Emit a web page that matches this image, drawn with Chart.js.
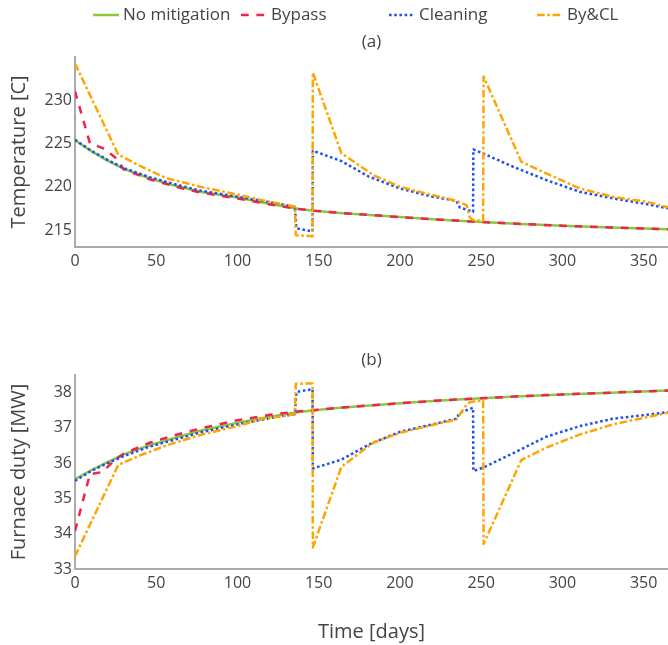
<!DOCTYPE html>
<html>
<head>
<meta charset="utf-8">
<script src="https://cdn.jsdelivr.net/npm/chart.js@4.4.1/dist/chart.umd.min.js"></script>
<style>
  html, body { margin: 0; padding: 0; background: #fff; }
  #wrap { position: relative; width: 668px; height: 645px; overflow: hidden; }
  #c1 { position: absolute; left: 0; top: 0; }
  #c2 { position: absolute; left: 0; top: 300px; }
</style>
</head>
<body>
<div id="wrap">
  <canvas id="c1" width="668" height="290"></canvas>
  <canvas id="c2" width="668" height="345"></canvas>
</div>
<script>
// ---------- data ----------
const seriesNames = ['No mitigation', 'Bypass', 'Cleaning', 'By&CL'];
const panelTitles = ['(a)', '(b)'];
const xTitle = 'Time [days]';
const yTitles = ['Temperature [C]', 'Furnace duty [MW]'];

// No mitigation
const noMitDays = [0, 10, 20, 30, 46, 60, 77, 100, 120, 138, 147, 165, 200, 225, 250, 275, 300, 330, 365];
const noMitTemp = [225.35, 224.1, 223.0, 222.05, 220.95, 220.2, 219.42, 218.75, 218.0, 217.42, 217.23, 216.95, 216.5, 216.2, 215.93, 215.7, 215.5, 215.3, 215.1];
const noMitDuty = [35.55, 35.8, 36.03, 36.25, 36.51, 36.7, 36.92, 37.15, 37.32, 37.45, 37.5, 37.58, 37.7, 37.78, 37.84, 37.9, 37.95, 38.0, 38.06];

// Bypass
const bypassDays = [0, 9.2, 17, 24.6, 30, 46, 62, 77, 100, 120, 138, 147, 165, 200, 225, 250, 275, 300, 330, 365];
const bypassTemp = [231.0, 225.0, 224.45, 223.4, 222.0, 220.85, 220.0, 219.35, 218.65, 217.95, 217.42, 217.23, 216.95, 216.5, 216.2, 215.93, 215.7, 215.5, 215.3, 215.1];
const bypassDuty = [34.08, 35.69, 35.75, 36.1, 36.27, 36.58, 36.8, 36.98, 37.22, 37.37, 37.47, 37.5, 37.58, 37.7, 37.78, 37.84, 37.9, 37.95, 38.0, 38.06];

// Cleaning
const cleanDays = [0, 10, 20, 30, 46, 60, 77, 100, 120, 135.3, 136.3, 146.2, 146.4, 164, 181, 200, 220, 234.7, 236.8, 245, 245.2, 251, 269.6, 290, 310.6, 331, 351.6, 365];
const cleanTemp = [225.4, 224.15, 223.1, 222.15, 221.1, 220.35, 219.55, 218.85, 218.2, 217.7, 215.2, 214.85, 224.15, 222.95, 221.15, 219.8, 218.85, 218.38, 217.62, 217.1, 224.3, 223.85, 222.3, 220.77, 219.42, 218.66, 218.0, 217.5];
const cleanDuty = [35.5, 35.78, 36.0, 36.2, 36.47, 36.65, 36.87, 37.1, 37.28, 37.39, 38.02, 38.1, 35.85, 36.1, 36.53, 36.89, 37.1, 37.26, 37.43, 37.57, 35.78, 35.87, 36.28, 36.75, 37.05, 37.26, 37.37, 37.45];

// By&CL
const byclDays = [0, 26.6, 40, 56, 77, 100, 115, 135.3, 135.9, 146.2, 146.4, 164, 183.5, 200, 220, 234.7, 241, 243, 245, 251.2, 251.5, 274.7, 290, 310.6, 331, 351.6, 365];
const byclTemp = [234.2, 223.7, 222.4, 221.0, 220.0, 219.1, 218.45, 217.72, 214.4, 214.3, 233.15, 223.85, 221.35, 220.0, 219.04, 218.38, 217.88, 216.47, 216.15, 216.05, 232.7, 222.88, 221.54, 219.81, 218.84, 218.27, 217.62];
const byclDuty = [33.36, 35.95, 36.22, 36.5, 36.8, 37.05, 37.25, 37.39, 38.25, 38.26, 33.61, 35.9, 36.58, 36.86, 37.08, 37.24, 37.66, 37.73, 37.75, 37.78, 33.71, 36.09, 36.44, 36.81, 37.1, 37.3, 37.43];

// ---------- styling ----------
const FONT = '"Open Sans", "Noto Sans", sans-serif';
const TEXT = '#444';
const AXIS = '#aaaaaa';
const styles = [
  { color: '#8dc63f', dash: [] },
  { color: '#f0234b', dash: [7.7, 7.7] },
  { color: '#1e50f0', dash: [2.6, 2.6] },
  { color: '#ffa500', dash: [7.7, 2.6, 2.6, 2.6] }
];
const LW = 2.5;

function pts(xs, ys) { return xs.map((x, i) => ({ x: x, y: ys[i] })); }

function makeDatasets(which) {
  const sets = which === 0
    ? [pts(noMitDays, noMitTemp), pts(bypassDays, bypassTemp), pts(cleanDays, cleanTemp), pts(byclDays, byclTemp)]
    : [pts(noMitDays, noMitDuty), pts(bypassDays, bypassDuty), pts(cleanDays, cleanDuty), pts(byclDays, byclDuty)];
  return sets.map((d, i) => ({
    label: seriesNames[i],
    data: d,
    borderColor: styles[i].color,
    backgroundColor: styles[i].color,
    borderDash: styles[i].dash,
    borderWidth: LW,
    borderCapStyle: 'butt',
    borderJoinStyle: 'round',
    pointRadius: 0,
    tension: 0,
    fill: false,
    order: 3 - i
  }));
}

const panelText = {
  id: 'panelText',
  afterDraw(chart, args, opts) {
    const ctx = chart.ctx, ca = chart.chartArea;
    ctx.save();
    ctx.fillStyle = TEXT;
    ctx.font = '17px ' + FONT;
    ctx.textAlign = 'center';
    ctx.textBaseline = 'middle';
    ctx.fillText(opts.title, (ca.left + ca.right) / 2, ca.top - 15);
    if (opts.legend) {
      const y = 15;
      chart.data.datasets.forEach((ds, i) => {
        const x0 = 93 + 148 * i;
        ctx.save();
        ctx.strokeStyle = ds.borderColor;
        ctx.lineWidth = LW;
        ctx.lineCap = 'butt';
        ctx.setLineDash(ds.borderDash);
        ctx.beginPath();
        ctx.moveTo(x0, y);
        ctx.lineTo(x0 + 26, y);
        ctx.stroke();
        ctx.restore();
        ctx.textAlign = 'left';
        ctx.fillStyle = TEXT;
        ctx.fillText(ds.label, x0 + 30, y);
      });
    }
    ctx.restore();
  }
};

function makeChart(id, which, yMin, yMax, yStep, padTop, xHeight) {
  const isBottom = which === 1;
  return new Chart(document.getElementById(id), {
    type: 'line',
    data: { datasets: makeDatasets(which) },
    options: {
      responsive: false,
      animation: false,
      layout: { padding: { top: padTop, left: 0, right: 0, bottom: 0 } },
      plugins: {
        legend: { display: false },
        tooltip: { enabled: false },
        panelText: { title: panelTitles[which], legend: which === 0 }
      },
      scales: {
        x: {
          type: 'linear',
          min: 0, max: 365,
          grid: { display: false, drawTicks: false },
          border: { display: true, color: AXIS, width: 2 },
          ticks: {
            stepSize: 50, includeBounds: false, autoSkip: false, maxRotation: 0,
            color: TEXT, padding: 5, font: { family: FONT, size: 16 }
          },
          title: {
            display: isBottom, text: xTitle, color: TEXT,
            font: { family: FONT, size: 20 }, padding: { top: 0, bottom: 1 }
          },
          afterFit: s => { s.height = xHeight; }
        },
        y: {
          min: yMin, max: yMax,
          grid: { display: false, drawTicks: false },
          border: { display: true, color: AXIS, width: 2 },
          ticks: {
            stepSize: yStep, includeBounds: false,
            color: TEXT, padding: 3, font: { family: FONT, size: 16 }
          },
          title: {
            display: true, text: yTitles[which], color: TEXT,
            font: { family: FONT, size: 20 }, padding: { top: 7, bottom: 0 }
          },
          afterFit: s => { s.width = 75; }
        }
      }
    },
    plugins: [panelText]
  });
}

makeChart('c1', 0, 213.05, 234.95, 5, 57, 43);
makeChart('c2', 1, 33.0, 38.5, 1, 75, 76);
</script>
</body>
</html>
